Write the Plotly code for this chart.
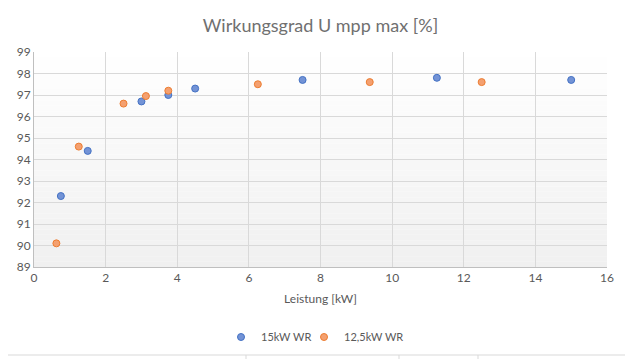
import plotly.graph_objects as go

# Data
x_15kw = [0.75, 1.5, 3.0, 3.75, 4.5, 7.5, 11.25, 15.0]
y_15kw = [92.3, 94.4, 96.7, 97.0, 97.3, 97.7, 97.8, 97.7]
x_125kw = [0.625, 1.25, 2.5, 3.125, 3.75, 6.25, 9.375, 12.5]
y_125kw = [90.1, 94.6, 96.6, 96.95, 97.2, 97.5, 97.6, 97.6]
series_names = ["15kW WR", "12,5kW WR"]
title_text = "Wirkungsgrad U mpp max [%]"
x_title = "Leistung [kW]"

# page body has an 8px margin; work in window coordinates and shift
OFF = 8
WIN_W, WIN_H = 633, 359
W, H = WIN_W - OFF, WIN_H - OFF
PL, PR, PT, PB = 34, 607, 52, 267          # plot box in window px
L, T = PL - OFF, PT - OFF
R, B = W - (PR - OFF), H - (PB - OFF)
PW, PH = PR - PL, PB - PT

def px(x):
    return (x - PL) / PW

def py(y):
    return (PB - y) / PH

FONT = "Lato"
GRAY = "#595959"

fig = go.Figure()
fig.add_trace(go.Scatter(
    x=x_15kw, y=y_15kw, mode="markers", name=series_names[0], legend="legend",
    marker=dict(size=7, color="#7393d6", line=dict(color="#4472c4", width=1)),
))
fig.add_trace(go.Scatter(
    x=x_125kw, y=y_125kw, mode="markers", name=series_names[1], legend="legend2",
    marker=dict(size=7, color="#f4a070", line=dict(color="#ed7d31", width=1)),
))

shapes = []
# gradient plot background
n = 40
for i in range(n):
    t = (i + 0.5) / n
    v = int(round(255 - (255 - 240) * t))
    shapes.append(dict(type="rect", xref="x domain", yref="y domain",
                       x0=0, x1=1, y0=1 - (i + 1) / n, y1=1 - i / n,
                       fillcolor=f"rgb({v},{v},{v})", line=dict(width=0),
                       layer="below"))
# chart border (right and bottom edges visible)
shapes.append(dict(type="line", xref="paper", yref="paper",
                   x0=px(627.5), x1=px(627.5), y0=py(359), y1=py(0),
                   line=dict(color="#d0d0d0", width=1), layer="above"))
shapes.append(dict(type="line", xref="paper", yref="paper",
                   x0=px(0), x1=px(628), y0=py(355), y1=py(355),
                   line=dict(color="#d9d9d9", width=1), layer="below"))
# spreadsheet cell lines outside the chart
for yy in range(14, 360, 20):
    shapes.append(dict(type="line", xref="paper", yref="paper",
                       x0=px(628), x1=px(633), y0=py(yy), y1=py(yy),
                       line=dict(color="#d9d9d9", width=1), layer="below"))
for xx in [246, 399, 478]:
    shapes.append(dict(type="line", xref="paper", yref="paper",
                       x0=px(xx), x1=px(xx), y0=py(355), y1=py(359),
                       line=dict(color="#d9d9d9", width=1), layer="below"))

legend_common = dict(orientation="h", xanchor="left", yanchor="middle",
                     font=dict(size=11, color=GRAY), itemwidth=30,
                     bgcolor="rgba(0,0,0,0)", borderwidth=0)

fig.update_layout(
    width=W, height=H,
    margin=dict(l=L, r=R, t=T, b=B, autoexpand=False),
    paper_bgcolor="white",
    plot_bgcolor="rgba(0,0,0,0)",
    font=dict(family=FONT, color=GRAY, size=12),
    title=dict(text=title_text, x=0.5, xanchor="center", xref="paper",
               y=1 - (26 - OFF) / H, yanchor="middle",
               font=dict(size=18, color="#707070", family=FONT)),
    shapes=shapes,
    showlegend=True,
    legend=dict(x=px(221), y=py(337), **legend_common),
    legend2=dict(x=px(304), y=py(337), **legend_common),
    xaxis=dict(range=[0, 16], dtick=2, tick0=0, showgrid=True,
               gridcolor="#d9d9d9", gridwidth=1, zeroline=False,
               showline=True, linecolor="#bfbfbf", linewidth=1,
               ticks="", tickfont=dict(size=12, color=GRAY), automargin=False,
               title=dict(text=x_title, font=dict(size=12, color=GRAY),
                          standoff=10),
               mirror=False),
    yaxis=dict(range=[89, 99], dtick=1, tick0=89, showgrid=True,
               gridcolor="#d9d9d9", gridwidth=1, zeroline=False,
               showline=True, linecolor="#bfbfbf", linewidth=1, automargin=False,
               ticks="", tickfont=dict(size=12, color=GRAY)),
)

fig.write_html("out.html")
